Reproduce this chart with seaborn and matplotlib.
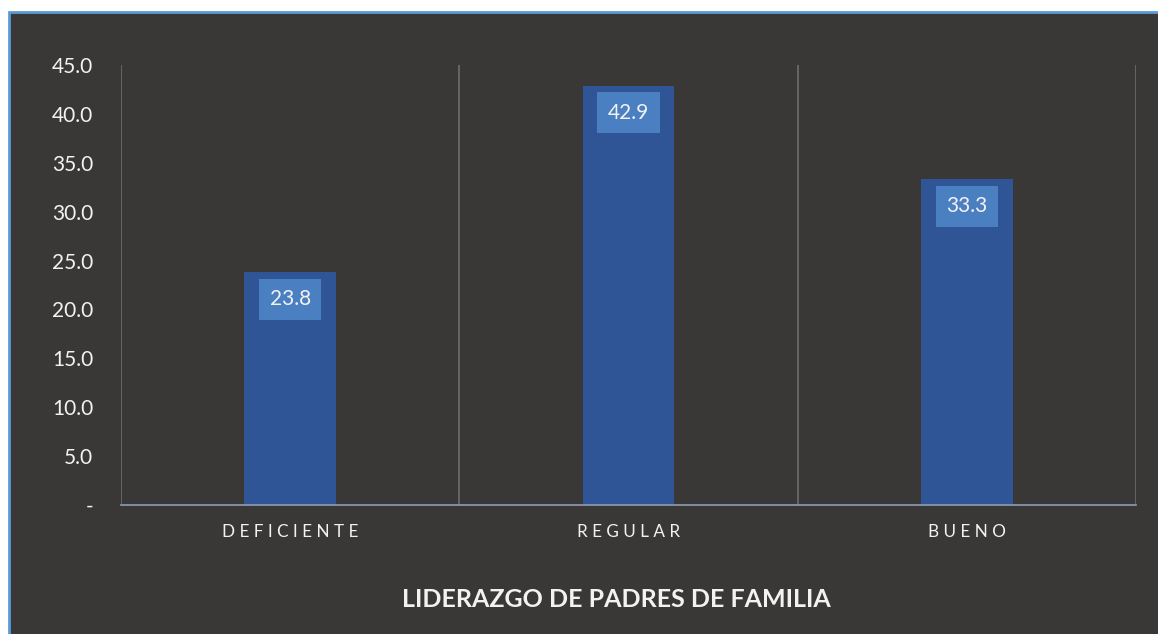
import matplotlib
matplotlib.use("Agg")
import matplotlib.pyplot as plt
import seaborn as sns
import pandas as pd
from matplotlib.patches import Rectangle

categories = ["DEFICIENTE", "REGULAR", "BUENO"]
values = [23.8, 42.9, 33.3]
y_ticks = [0, 5, 10, 15, 20, 25, 30, 35, 40, 45]
y_labels = ["-"] + [f"{v:.1f}" for v in y_ticks[1:]]
title = "LIDERAZGO DE PADRES DE FAMILIA"

BG = "#3a3836"
BAR = "#2f5597"
LABEL_BOX = "#4a7fc1"
TEXT = "#f2f2f2"
GRID = "#6f6d6b"

sns.set_theme(style="white")
plt.rcParams["font.family"] = ["Lato", "DejaVu Sans"]

df = pd.DataFrame({"cat": categories, "val": values})

fig = plt.figure(figsize=(11.58, 6.34), dpi=100)
fig.patch.set_facecolor("white")
bg_rect = Rectangle((9 / 1158, -0.01), 1.0, 1 - 12 / 634 + 0.01,
                    transform=fig.transFigure, facecolor=BG,
                    edgecolor="#5b9bd5", linewidth=2, zorder=-10)
fig.add_artist(bg_rect)

ax = fig.add_axes([121 / 1158, 1 - 505 / 634, 1015 / 1158, 440 / 634])
ax.set_facecolor(BG)
ax.patch.set_alpha(0)

sns.barplot(data=df, x="cat", y="val", color=BAR, width=0.27, saturation=1,
            edgecolor="none", linewidth=0, ax=ax, zorder=2)

ax.set_xlim(-0.5, len(categories) - 0.5)
ax.set_ylim(0, 45)
ax.set_yticks(y_ticks)
ax.set_yticklabels(y_labels)
ax.set_xticks(range(len(categories)))
ax.set_xticklabels([" ".join(c) for c in categories])
ax.tick_params(axis="y", length=0, pad=20, labelsize=15, labelcolor=TEXT)
ax.tick_params(axis="x", length=0, pad=14, labelsize=12.3, labelcolor=TEXT)
ax.set_xlabel(title, fontsize=18, fontweight="bold", color=TEXT)
ax.xaxis.set_label_coords(0.488, -0.188)
ax.set_ylabel("")

for s in ["top", "right", "left"]:
    ax.spines[s].set_visible(False)
ax.spines["bottom"].set_color("#8e9db3")
ax.spines["bottom"].set_linewidth(1.2)
ax.vlines([i - 0.5 for i in range(len(categories) + 1)], 0, 45, color=GRID, linewidth=1.2, zorder=1)

for i, v in enumerate(values):
    ax.annotate(f"{v:.1f}", (i, v), xytext=(0, -27), textcoords="offset pixels",
                ha="center", va="center", fontsize=15, color=TEXT, zorder=3,
                bbox=dict(boxstyle="square,pad=0.5", facecolor=LABEL_BOX, edgecolor="none"))

fig.savefig("out.png", dpi=100, facecolor=fig.get_facecolor())
